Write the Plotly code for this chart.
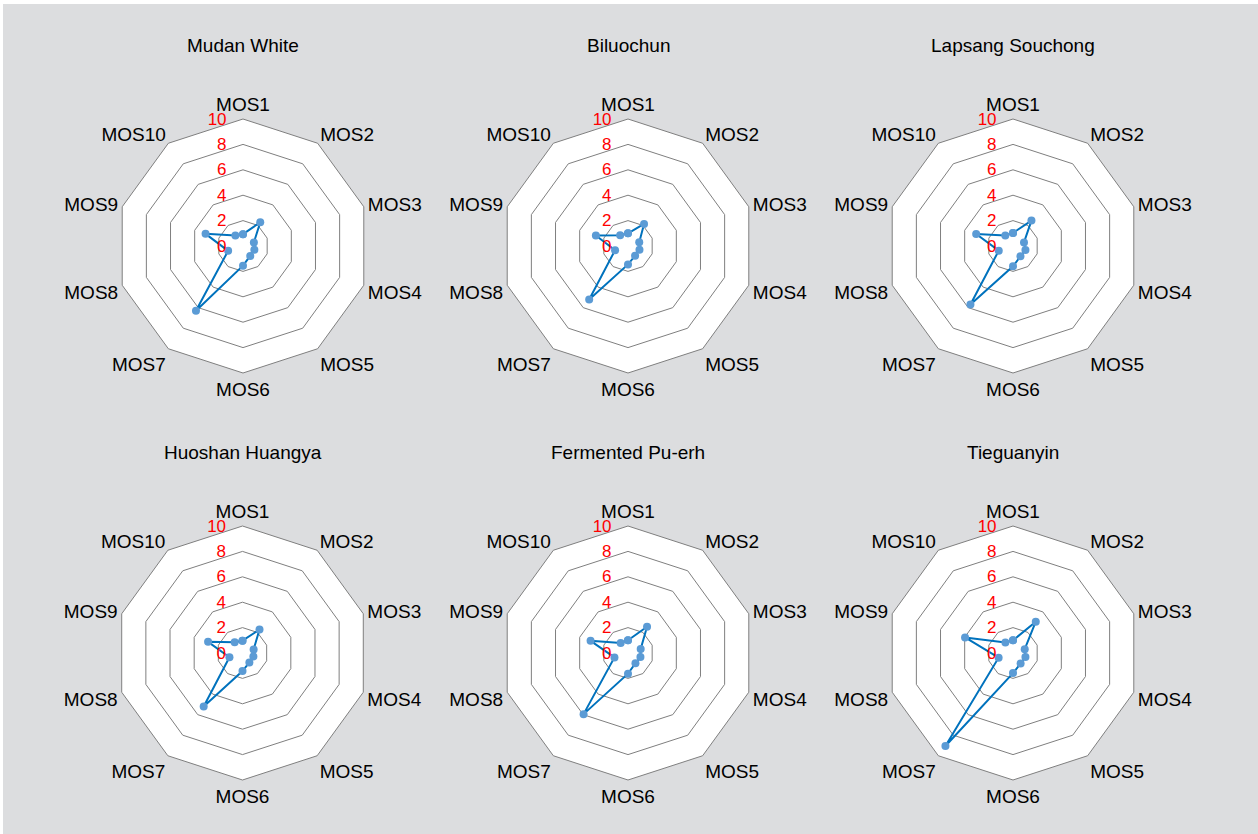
import plotly.graph_objects as go

categories = [f"MOS{i}" for i in range(1, 11)]
teas = ["Mudan White", "Biluochun", "Lapsang Souchong",
        "Huoshan Huangya", "Fermented Pu-erh", "Tieguanyin"]
mudan_white = [0.93, 2.31, 0.90, 0.94, 0.97, 1.55, 6.30, 1.23, 3.10, 1.02]
biluochun = [1.00, 2.15, 0.93, 0.95, 0.95, 1.45, 5.20, 1.07, 2.66, 1.05]
lapsang_souchong = [1.03, 2.47, 0.91, 1.03, 1.00, 1.60, 5.70, 1.18, 3.05, 1.03]
huoshan_huangya = [0.97, 2.28, 0.92, 0.90, 0.92, 1.42, 5.20, 1.08, 2.85, 1.05]
fermented_puerh = [1.00, 2.55, 1.05, 1.03, 1.00, 1.63, 5.95, 1.12, 3.10, 0.98]
tieguanyin = [1.00, 3.05, 0.97, 1.03, 1.02, 1.58, 9.05, 1.19, 3.97, 1.02]
series = [mudan_white, biluochun, lapsang_souchong,
          huoshan_huangya, fermented_puerh, tieguanyin]
radial_ticks = [0, 2, 4, 6, 8, 10]

W, H = 1258, 834
R = 127
centers = [(243, 246), (628, 246), (1013, 246),
           (242.5, 653), (628, 653), (1013, 653)]
title_y = [46, 46, 46, 453, 453, 453]

FONT = "Liberation Sans, Arial, sans-serif"
GRID = "#7f7f7f"

fig = go.Figure()
layout = dict(
    width=W, height=H,
    margin=dict(l=0, r=0, t=0, b=0),
    paper_bgcolor="white",
    showlegend=False,
    font=dict(family=FONT, color="black"),
    shapes=[dict(type="rect", xref="paper", yref="paper",
                 x0=3 / W, x1=1, y0=0, y1=1 - 4 / H,
                 fillcolor="#dcdddf", line=dict(width=0), layer="below")],
    annotations=[],
)

for i, (name, vals) in enumerate(zip(teas, series)):
    key = "polar" if i == 0 else f"polar{i + 1}"
    cx, cy = centers[i]
    fig.add_trace(go.Scatterpolar(
        r=vals + [vals[0]],
        theta=categories + [categories[0]],
        mode="lines+markers",
        line=dict(color="#0072bd", width=2),
        marker=dict(color="#5b9bd5", size=8),
        subplot=key,
        hoverinfo="skip",
    ))
    layout[key] = dict(
        domain=dict(x=[(cx - R) / W, (cx + R) / W],
                    y=[1 - (cy + R) / H, 1 - (cy - R) / H]),
        bgcolor="white",
        gridshape="linear",
        angularaxis=dict(
            direction="clockwise", rotation=90,
            categoryorder="array", categoryarray=categories,
            showgrid=False, showline=True, linecolor=GRID, linewidth=1,
            ticks="", tickfont=dict(size=19, family=FONT, color="black"),
        ),
        radialaxis=dict(
            range=[0, 10], tickvals=radial_ticks,
            showline=False, ticks="outside", ticklen=10,
            tickcolor="rgba(0,0,0,0)",
            angle=90, side="counterclockwise", tickangle=90,
            gridcolor=GRID, gridwidth=1,
            tickfont=dict(size=17, family=FONT, color="red"),
        ),
    )
    layout["annotations"].append(dict(
        text=name, xref="paper", yref="paper",
        x=cx / W, y=1 - title_y[i] / H, xanchor="center", yanchor="middle",
        showarrow=False, font=dict(size=19, family=FONT, color="black"),
    ))

fig.update_layout(**layout)
fig.write_html("out.html", config={"displayModeBar": False},
               post_script="document.body.style.margin='0px';")
